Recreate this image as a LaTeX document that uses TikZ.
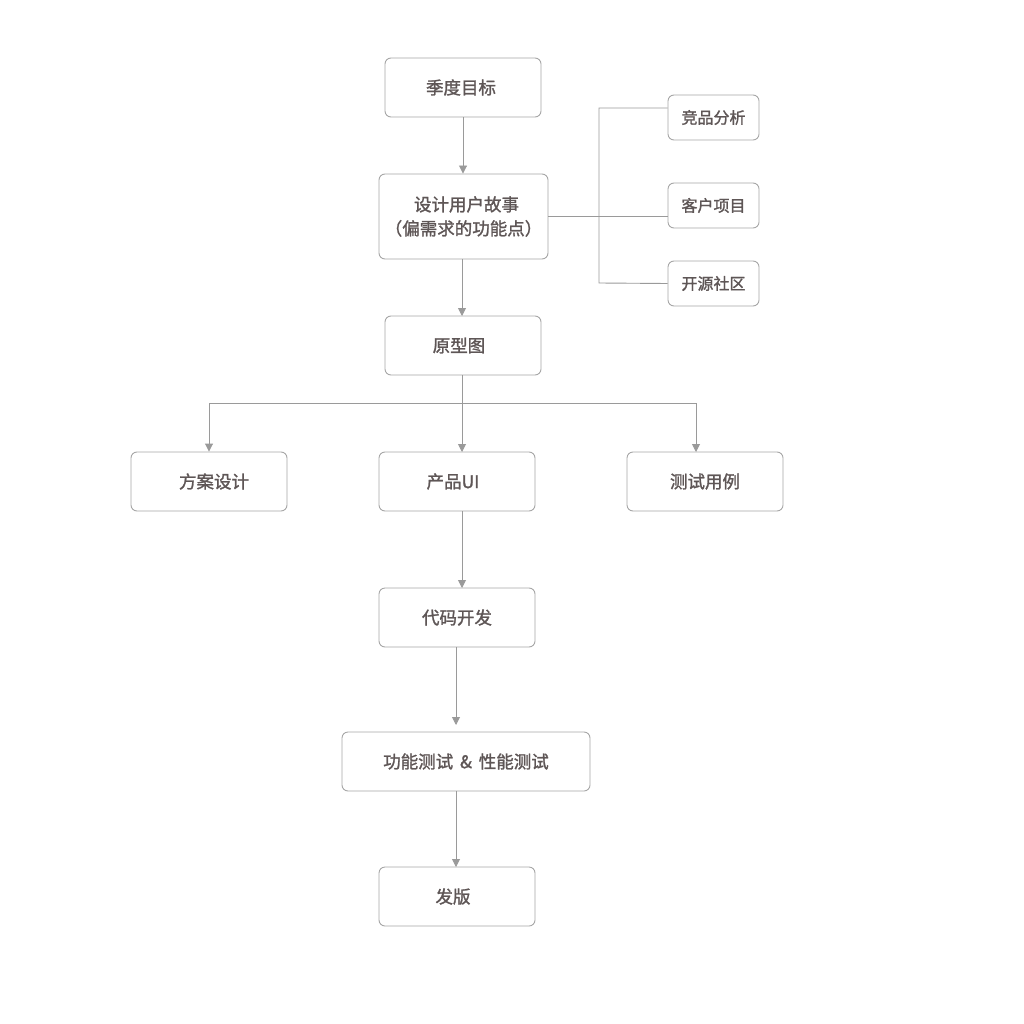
\documentclass[tikz,border=0pt]{standalone}
\usepackage{fontspec}
\setmainfont{Noto Sans CJK SC}
\newfontfamily\cjkm{Noto Sans CJK SC}[FakeBold=1.4]
\usetikzlibrary{arrows.meta}
\definecolor{txt}{HTML}{5E5656}
\definecolor{ln}{HTML}{9A9A9A}
\definecolor{bd}{HTML}{A6A6A6}
\tikzset{
  box/.style={draw=bd, line width=0.9pt, rounded corners=6pt, fill=white, text=txt, font=\cjkm\fontsize{17.5}{24}\selectfont, align=center, inner sep=0pt},
  sbox/.style={box, font=\cjkm\fontsize{16}{20}\selectfont},
  conn/.style={draw=ln, line width=0.9pt},
  arr/.style={conn, -{Triangle[width=8pt,length=8pt]}}
}
\begin{document}
\begin{tikzpicture}[x=1pt,y=-1pt]
\useasboundingbox (0,0) rectangle (1024,1024);
\node[box, minimum width=156pt, minimum height=59pt] (goal) at (463,87.5) {季度目标\hspace*{4pt}};
\node[box, minimum width=169pt, minimum height=85pt] (story) at (463.5,216.5) {\hspace*{6pt}设计用户故事\\（偏需求的功能点）};
\node[sbox, minimum width=91pt, minimum height=45pt] (jp) at (713.5,117.5) {竞品分析};
\node[sbox, minimum width=91pt, minimum height=45pt] (kh) at (713.5,205.5) {客户项目};
\node[sbox, minimum width=91pt, minimum height=45pt] (ky) at (713.5,283.5) {开源社区};
\node[box, minimum width=156pt, minimum height=59pt] (proto) at (463,345.5) {原型图\hspace*{8pt}};
\node[box, minimum width=156pt, minimum height=59pt] (plan) at (209,481.5) {\hspace*{10pt}方案设计};
\node[box, minimum width=156pt, minimum height=59pt] (ui) at (457,481.5) {产品UI\hspace*{8pt}};
\node[box, minimum width=156pt, minimum height=59pt] (tc) at (705,481.5) {测试用例};
\node[box, minimum width=156pt, minimum height=59pt] (dev) at (457,617.5) {代码开发};
\node[box, minimum width=248pt, minimum height=59pt] (test) at (466,761.5) {功能测试 \,\&\, 性能测试};
\node[box, minimum width=156pt, minimum height=59pt] (rel) at (457,896.5) {发版\hspace*{8pt}};

\coordinate (split) at (462,403);
\draw[arr] (goal.south) -- (goal.south |- story.north);
\draw[arr] (462,259) -- (462,316);
\draw[conn] (462,375) -- (split);
\draw[conn] (209,403) -- (696,403);
\draw[arr] (209,403) -- (plan.north);
\draw[arr] (split) -- (462,452);
\draw[arr] (696,403) -- (696,452);
\draw[arr] (462,511) -- (462,588);
\draw[arr] (456,647) -- (456,725);
\draw[arr] (456,791) -- (456,867);
\draw[conn] (story.east) -- (kh.west |- story.east);
\draw[conn] (jp.west |- 0,108) -- (599,108) -- (599,283) -- (ky.west);
\end{tikzpicture}
\end{document}
